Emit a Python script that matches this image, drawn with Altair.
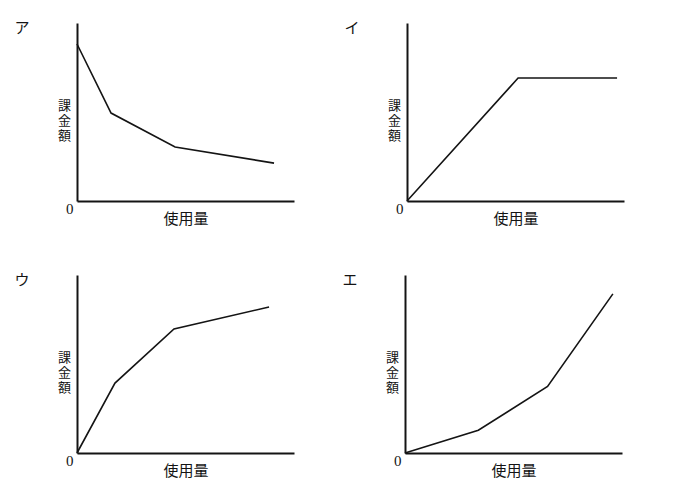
import altair as alt
import pandas as pd

# panel labels
panels = ["ア", "イ", "ウ", "エ"]

# values (axis length = 100 units)
a_x = [0, 15.7, 45.2, 90.8]
a_y = [88.2, 49.4, 30.3, 21.3]
i_x = [0, 51.2, 96.8]
i_y = [0, 69.1, 69.1]
u_x = [0, 17.5, 44.7, 88.5]
u_y = [0, 39.3, 69.7, 82.0]
e_x = [0, 33.8, 65.7, 95.8]
e_y = [0, 12.8, 37.4, 89.4]

x_title = "使用量"
y_title = ["課", "金", "額"]
origin_values = [0]

W, H = 217, 178
JP = "Noto Sans CJK JP"
INK = "#141414"


def panel(label, xs, ys):
    df = pd.DataFrame({"x": xs, "y": ys, "order": list(range(len(xs)))})
    line = alt.Chart(df).mark_line(color=INK, strokeWidth=1.6).encode(
        x=alt.X(
            "x:Q",
            scale=alt.Scale(domain=[0, 100], nice=False),
            axis=alt.Axis(
                title=x_title, labels=False, ticks=False, grid=False,
                domainColor=INK, domainWidth=2,
                titleFont=JP, titleFontSize=15, titleFontWeight="normal",
                titleColor=INK, titlePadding=10,
            ),
        ),
        y=alt.Y(
            "y:Q",
            scale=alt.Scale(domain=[0, 100], nice=False),
            axis=alt.Axis(
                title=y_title, values=origin_values, ticks=False, tickSize=0,
                grid=False, domainColor=INK, domainWidth=2,
                labelFont="Liberation Serif", labelFontSize=15, labelColor=INK,
                labelPadding=4, labelOffset=7,
                titleFont=JP, titleFontSize=13, titleFontWeight="normal",
                titleColor=INK, titleAngle=0, titleAlign="center",
                titleBaseline="top", titleX=-13, titleY=76, titleLineHeight=15,
            ),
        ),
        order="order:Q",
    )
    text = alt.Chart(pd.DataFrame({"label": [label]})).mark_text(
        align="center", baseline="top", fontSize=15, font=JP, color=INK
    ).encode(x=alt.value(-55), y=alt.value(-2), text="label:N")
    return alt.layer(line, text).properties(width=W, height=H)


row1 = alt.hconcat(panel(panels[0], a_x, a_y), panel(panels[1], i_x, i_y), spacing=50)
row2 = alt.hconcat(panel(panels[2], u_x, u_y), panel(panels[3], e_x, e_y), spacing=48)

chart = alt.vconcat(row1, row2, spacing=47).properties(
    padding={"top": 13, "left": 6, "right": 5, "bottom": 5},
    background="white",
).configure_view(stroke=None)

chart.save("out.html", embed_options={"renderer": "svg", "actions": False})
